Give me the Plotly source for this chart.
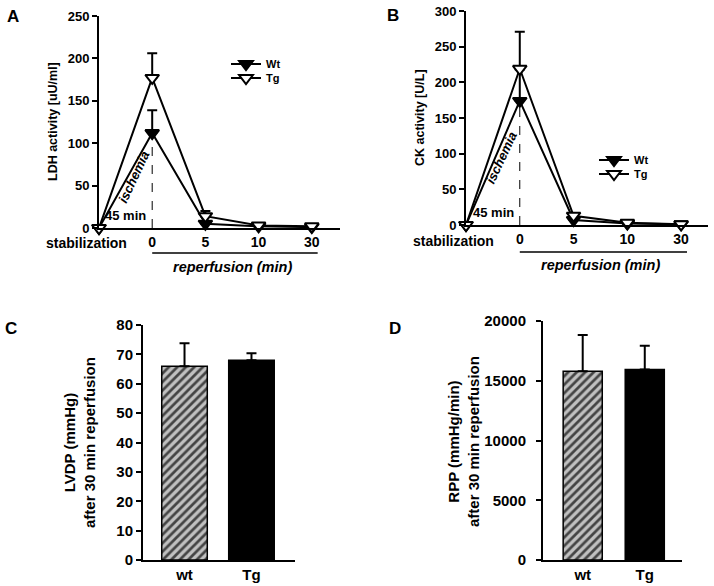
import plotly.graph_objects as go

# ---------------- data ----------------
time_labels = ["stabilization", "0", "5", "10", "30"]
time_pos = list(range(len(time_labels)))

ldh_wt = [0, 112, 5, 2, 1]
ldh_wt_err = [0, 27, 3, 0, 0]
ldh_tg = [0, 177, 14, 3, 2]
ldh_tg_err = [0, 29, 6, 0, 0]

ck_wt = [0, 174, 7, 2, 1]
ck_wt_err = [0, 44, 2, 0, 0]
ck_tg = [0, 219, 13, 3, 1]
ck_tg_err = [0, 52, 3, 0, 0]

groups = ["wt", "Tg"]
lvdp = [66, 68]
lvdp_err = [7.8, 2.4]
rpp = [15800, 15950]
rpp_err = [3030, 1980]

FONT = "Liberation Sans, Arial, sans-serif"
W, H = 714, 586


def px(x):
    return x / W


def py(y):
    return (H - y) / H


fig = go.Figure()


def line_trace(x, y, err, name, filled, xa, ya, legend):
    return go.Scatter(
        x=x, y=y, name=name, mode="lines+markers",
        xaxis=xa, yaxis=ya, legend=legend, cliponaxis=False,
        line=dict(color="black", width=2),
        marker=dict(symbol="triangle-down", size=12,
                    color="black" if filled else "white",
                    line=dict(color="black", width=2)),
        error_y=dict(type="data", symmetric=False, array=err,
                     arrayminus=[0] * len(err), color="black",
                     thickness=2, width=5),
    )


fig.add_trace(line_trace(time_pos, ldh_wt, ldh_wt_err, "Wt", True, "x", "y", "legend"))
fig.add_trace(line_trace(time_pos, ldh_tg, ldh_tg_err, "Tg", False, "x", "y", "legend3"))
fig.add_trace(line_trace(time_pos, ck_wt, ck_wt_err, "Wt", True, "x2", "y2", "legend2"))
fig.add_trace(line_trace(time_pos, ck_tg, ck_tg_err, "Tg", False, "x2", "y2", "legend4"))

bar_colors = ["#c0c0c0", "black"]
bar_patterns = ["/", ""]


def bar_trace(vals, errs, xa, ya, width):
    return go.Bar(
        x=[0, 1], y=vals, xaxis=xa, yaxis=ya, width=width, showlegend=False,
        marker=dict(color=bar_colors,
                    pattern=dict(shape=bar_patterns, fillmode="overlay",
                                 fgcolor=["black", "black"], fgopacity=1,
                                 size=6, solidity=0.45),
                    line=dict(color="black", width=1.5)),
        error_y=dict(type="data", symmetric=False, array=errs,
                     arrayminus=[0, 0], color="black", thickness=2, width=5),
    )


fig.add_trace(bar_trace(lvdp, lvdp_err, "x3", "y3", 0.68))
fig.add_trace(bar_trace(rpp, rpp_err, "x4", "y4", 0.63))

yax_common = dict(showline=True, linewidth=2, linecolor="black", ticks="outside",
                  ticklen=5, tickwidth=2, tickcolor="black", showgrid=False,
                  zeroline=False, automargin=False, tickformat="d",
                  tickfont=dict(family=FONT, size=13, color="black", weight="bold"))
xax_line = dict(showline=True, linewidth=2, linecolor="black", ticks="",
                showgrid=False, zeroline=False, automargin=False,
                tickfont=dict(family=FONT, size=14, color="black", weight="bold"))
big_tick = dict(family=FONT, size=15, color="black", weight="bold")
leg_font = dict(family=FONT, size=11, color="black", weight="bold")


def leg(x, y):
    return dict(x=px(x), y=py(y), xanchor="left", yanchor="middle", font=leg_font,
                bgcolor="rgba(0,0,0,0)", itemwidth=30)


fig.update_layout(
    template="none",
    width=W, height=H, margin=dict(l=0, r=0, t=0, b=0, pad=0),
    paper_bgcolor="white", plot_bgcolor="white",
    font=dict(family=FONT, color="black"),
    xaxis=dict(domain=[px(99), px(340)], range=[0, 4.53], anchor="y",
               tickvals=time_pos[1:], ticktext=time_labels[1:], ticklabelstandoff=0, **xax_line),
    yaxis=dict(domain=[py(228), py(16)], range=[0, 250], tickvals=[0, 50, 100, 150, 200, 250],
               anchor="x", **yax_common),
    xaxis2=dict(domain=[px(466), px(708)], range=[0, 4.5], anchor="y2",
                tickvals=time_pos[1:], ticktext=time_labels[1:], ticklabelstandoff=0, **xax_line),
    yaxis2=dict(domain=[py(225), py(11)], range=[0, 300], tickvals=[0, 50, 100, 150, 200, 250, 300],
                anchor="x2", **yax_common),
    xaxis3=dict(domain=[px(143), px(295)], range=[-0.62, 1.65], anchor="y3",
                tickvals=[0, 1], ticktext=groups, ticklabelstandoff=0,
                **{**xax_line, "tickfont": big_tick}),
    yaxis3=dict(domain=[py(560), py(325)], range=[0, 80], dtick=10, anchor="x3",
                **{**yax_common, "tickfont": big_tick}),
    xaxis4=dict(domain=[px(543), px(682)], range=[-0.64, 1.6], anchor="y4",
                tickvals=[0, 1], ticktext=groups, ticklabelstandoff=0,
                **{**xax_line, "tickfont": big_tick}),
    yaxis4=dict(domain=[py(560), py(321)], range=[0, 20000], dtick=5000, anchor="x4",
                ticklabelstandoff=7, **{**yax_common, "tickfont": big_tick}),
    legend=leg(226, 64),
    legend3=leg(226, 78),
    legend2=leg(594, 160),
    legend4=leg(594, 174),
    barmode="overlay",
)

ann = []
# panel letters
for letter, x, y in [("A", 13, 17), ("B", 393, 16), ("C", 11, 328), ("D", 395, 328)]:
    ann.append(dict(text=letter, xref="paper", yref="paper", x=px(x), y=py(y),
                    xanchor="center", yanchor="middle",
                    showarrow=False, font=dict(family=FONT, size=17, weight="bold")))

# y titles
for text, x, y, size in [("LDH activity [uU/ml]", 53, 122, 12.5),
                         ("CK activity [U/L]", 420, 118, 12.5),
                         ("LVDP (mmHg)<br>after 30 min reperfusion", 79, 443, 15),
                         ("RPP (mmHg/min)<br>after 30 min reperfusion", 463, 442, 15)]:
    ann.append(dict(text=text, xref="paper", yref="paper", x=px(x), y=py(y),
                    xanchor="center", yanchor="middle",
                    textangle=-90, showarrow=False,
                    font=dict(family=FONT, size=size, weight="bold")))

for xa, ya, stab_y, rep_y, rep_label_y, wt in [("x", "y", 243, 253, 267, ldh_wt),
                                                ("x2", "y2", 241, 252, 265, ck_wt)]:
    ann.append(dict(text=time_labels[0], xref=xa, yref="paper", x=time_pos[0], y=py(stab_y),
                    xanchor="right", xshift=30, yanchor="middle", showarrow=False,
                    font=dict(family=FONT, size=14, weight="bold")))
    ann.append(dict(text="reperfusion (min)", xref=xa, yref="paper",
                    x=(time_pos[1] + time_pos[4]) / 2, y=py(rep_label_y),
                    xanchor="center", yanchor="middle", showarrow=False,
                    font=dict(family=FONT, size=14.5, weight="bold", style="italic")))
    ann.append(dict(text="45 min", xref=xa, yref=ya, x=time_pos[1], y=0,
                    xanchor="right", xshift=-4, yanchor="bottom", yshift=3, showarrow=False,
                    font=dict(family=FONT, size=13, weight="bold")))
    ann.append(dict(text="ischemia", xref=xa, yref=ya, x=time_pos[1], y=wt[1] * 0.54,
                    xanchor="center", yanchor="middle",
                    xshift=-18, textangle=-65, showarrow=False,
                    font=dict(family=FONT, size=13, weight="bold", style="italic")))
    fig.add_shape(type="line", xref=xa, yref="paper", x0=time_pos[1], x1=time_pos[4] + 0.11,
                  y0=py(rep_y), y1=py(rep_y), line=dict(color="black", width=1.5))
    fig.add_shape(type="line", xref=xa, yref=ya, x0=time_pos[1], x1=time_pos[1],
                  y0=0, y1=wt[1], line=dict(color="black", width=1, dash="dash"))

fig.update_layout(annotations=ann)
fig.write_html("out.html", config={"displayModeBar": False},
               post_script="document.body.style.margin='0';")
